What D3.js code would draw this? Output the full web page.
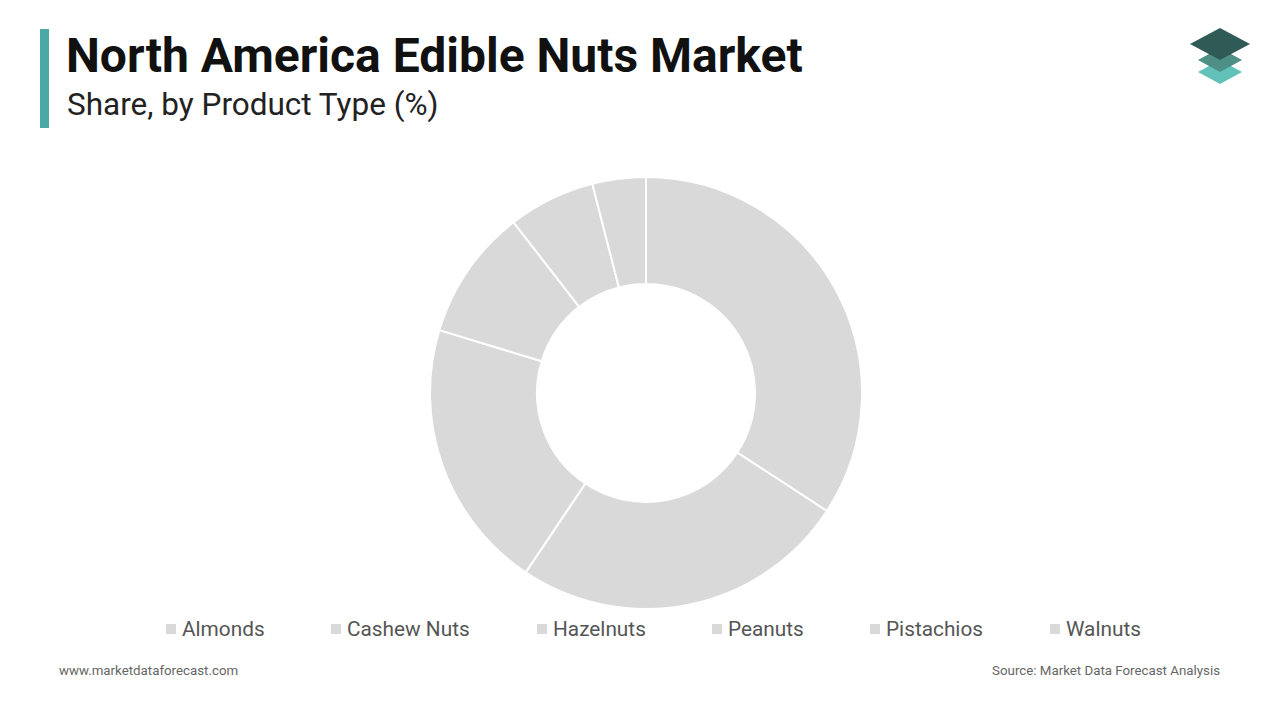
<!DOCTYPE html>
<html><head><meta charset="utf-8">
<script src="https://cdn.jsdelivr.net/npm/d3@7"></script>
<style>body{margin:0;background:#fff;font-family:Roboto,sans-serif}</style>
</head><body>
<svg id="c" width="1280" height="720"></svg>
<script>
const categories = ["Almonds","Cashew Nuts","Hazelnuts","Peanuts","Pistachios","Walnuts"];
const values = [34.2,25.2,20.3,9.8,6.5,4.0];
const legendX = [166,331,537,712,870,1050];

const svg = d3.select("#c");
svg.append("rect").attr("x",40).attr("y",29).attr("width",9).attr("height",99).attr("fill","#4aa9a4");
svg.append("text").attr("x",66).attr("y",72).attr("font-size",48).attr("font-weight",700).attr("fill","#111").text("North America Edible Nuts Market");
svg.append("text").attr("x",67).attr("y",115).attr("font-size",31.5).attr("fill","#222").text("Share, by Product Type (%)");

const lg = svg.append("g");
[[72,"#62c2ba"],[60,"#4e8f86"],[44,"#2f5a55"]].forEach(([y,c],i)=>{
  const w = i==2?30:22, h=i==2?16:12;
  lg.append("path").attr("d",`M1220 ${y-h} L${1220+w} ${y} L1220 ${y+h} L${1220-w} ${y} Z`).attr("fill",c);
});

const pie = d3.pie().sort(null).value(d=>d);
const arc = d3.arc().innerRadius(109).outerRadius(216);
const g = svg.append("g").attr("transform","translate(646,393)");
g.selectAll("path").data(pie(values)).join("path").attr("d",arc)
  .attr("fill","#d9d9d9").attr("stroke","#fff").attr("stroke-width",2);

const leg = svg.append("g");
categories.forEach((c,i)=>{
  leg.append("rect").attr("x",legendX[i]).attr("y",624).attr("width",10).attr("height",10).attr("fill","#d9d9d9");
  leg.append("text").attr("x",legendX[i]+16).attr("y",636).attr("font-size",20.8).attr("fill","#555").text(c);
});
svg.append("text").attr("x",59).attr("y",675).attr("font-size",13.3).attr("fill","#666").text("www.marketdataforecast.com");
svg.append("text").attr("x",1220).attr("y",675).attr("font-size",13.3).attr("fill","#666").attr("text-anchor","end").text("Source: Market Data Forecast Analysis");
</script>
</body></html>
